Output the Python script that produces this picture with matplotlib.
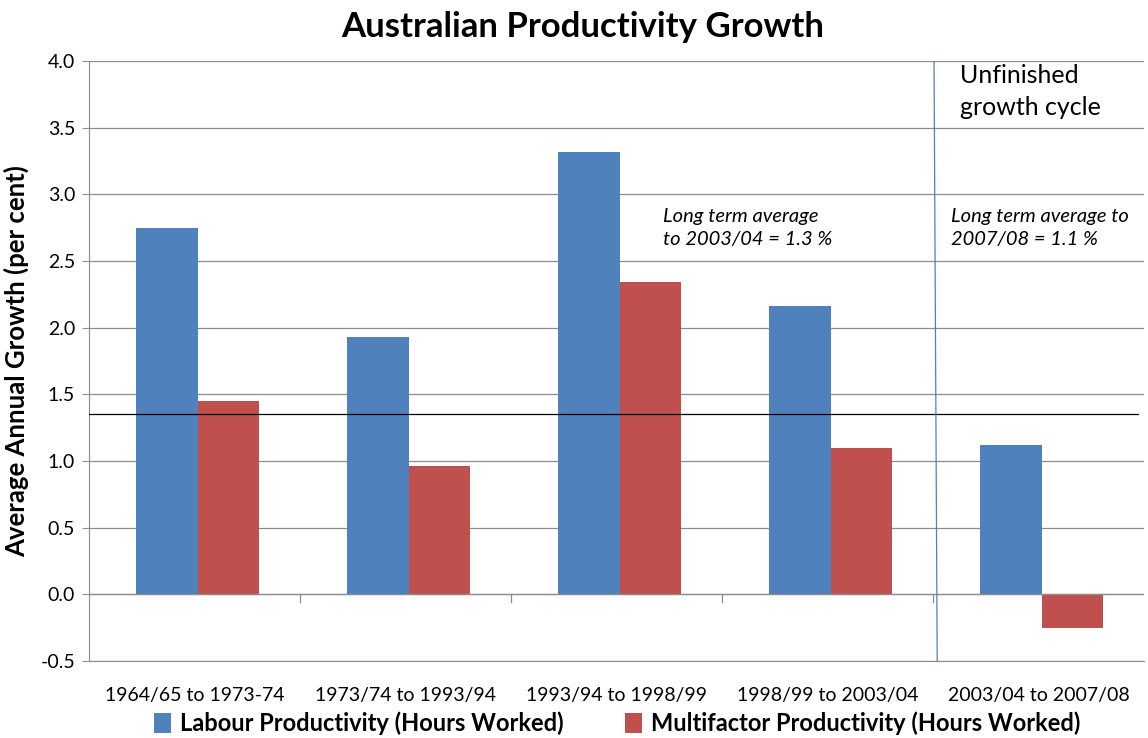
import numpy as np
import matplotlib.pyplot as plt

# data
periods = ['1964/65 to 1973-74', '1973/74 to 1993/94', '1993/94 to 1998/99',
           '1998/99 to 2003/04', '2003/04 to 2007/08']
labour = [2.75, 1.93, 3.32, 2.16, 1.12]
multifactor = [1.45, 0.96, 2.34, 1.10, -0.25]
long_term_avg = 1.35
yticks = [-0.5, 0.0, 0.5, 1.0, 1.5, 2.0, 2.5, 3.0, 3.5, 4.0]

blue = '#4F81BD'
red = '#C0504D'
grid_col = '#8C8C8C'

plt.rcParams['font.family'] = ['Lato', 'DejaVu Sans']

fig = plt.figure(figsize=(11.48, 7.38), dpi=100)
ax = fig.add_axes([0.0775, 0.1043, 0.919, 0.813])

x = np.arange(len(periods))
w = 0.29
ax.bar(x - w / 2 + 0.015, labour, w, color=blue, label='Labour Productivity (Hours Worked)', zorder=3)
ax.bar(x + w / 2 + 0.015, multifactor, w, color=red, label='Multifactor Productivity (Hours Worked)', zorder=3)

ax.set_xlim(-0.5, len(periods) - 0.5)
ax.set_ylim(-0.5, 4.0)
ax.set_yticks(yticks)
ax.set_yticklabels([f'{v:.1f}' for v in yticks], fontsize=14)
ax.yaxis.grid(True, color=grid_col, linewidth=0.9, zorder=0)

# category axis drawn at zero, labels sit below the plot
ax.axhline(0, color=grid_col, linewidth=0.9, zorder=4)
for b in np.arange(0.5, len(periods) - 1, 1.0):
    ax.plot([b, b], [0, -0.06], color=grid_col, linewidth=0.9, zorder=4)
ax.set_xticks(x)
ax.set_xticklabels(periods, fontsize=14)
ax.tick_params(axis='x', length=0, pad=19)
ax.tick_params(axis='y', length=5, color=grid_col, pad=5)

for s in ['top', 'right']:
    ax.spines[s].set_visible(False)
ax.spines['left'].set_color(grid_col)
ax.spines['bottom'].set_color(grid_col)

# long term average line and cycle divider
ax.plot([-0.5, 4.47], [long_term_avg, long_term_avg], color='black', linewidth=0.9, zorder=5)
ax.plot([3.505, 3.52], [4.0, -0.5], color=blue, linewidth=0.9, zorder=5)

ax.text(3.63, 3.98, 'Unfinished\ngrowth cycle', fontsize=18, va='top', ha='left', linespacing=1.5)
ax.text(2.22, 2.9, 'Long term average\nto 2003/04 = 1.3 %', fontsize=14.5, style='italic',
        va='top', ha='left', linespacing=1.45)
ax.text(3.585, 2.9, 'Long term average to\n2007/08 = 1.1 %', fontsize=14.5, style='italic',
        va='top', ha='left', linespacing=1.45)

ax.set_ylabel('Average Annual Growth (per cent)', fontsize=18.5, fontweight='bold', labelpad=8)
fig.suptitle('Australian Productivity Growth', fontsize=25, fontweight='bold', x=0.508, y=0.985)

fig.legend(loc='center', bbox_to_anchor=(0.538, 0.02), ncol=2, frameon=False,
           prop={'size': 17, 'weight': 'bold'}, handlelength=0.7, handleheight=0.9,
           handletextpad=0.4, columnspacing=2.6, borderpad=0.1)

fig.savefig('out.png', dpi=100)
